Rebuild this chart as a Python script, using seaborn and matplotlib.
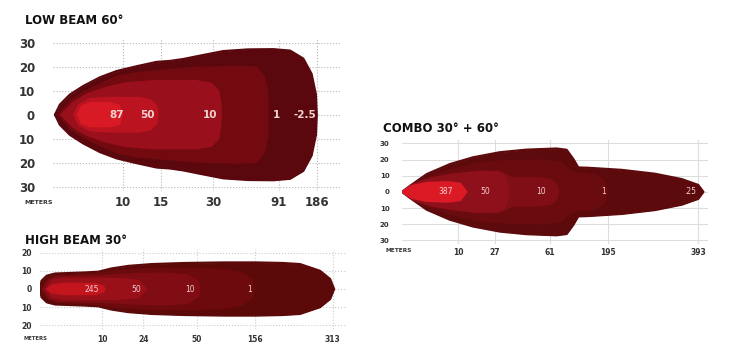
import numpy as np
import pandas as pd
import matplotlib
matplotlib.use("Agg")
import matplotlib.pyplot as plt
import seaborn as sns

sns.set_style("white")
plt.rcParams['font.family'] = ['DejaVu Sans']

W, H = 734, 363

# ---------------- LOW BEAM 60 ----------------
low_tick_pos = [24.4, 37.6, 55.7, 78.7, 92.0]
low_tick_labels = ["10", "15", "30", "91", "186"]
low_zone_labels = ["87", "50", "10", "1", "-2.5"]
low_label_pos = [22.3, 32.8, 54.7, 78.0, 87.8]
low_outer_x = [0.7, 2.4, 5.9, 10.6, 16.4, 22.2, 29.2, 36.1, 40.8, 45.4, 51.2, 59.3, 68.0, 76.8, 82.6, 87.2, 90.1, 91.6, 91.9]
low_outer_hw = [0, 4.2, 8.4, 12.0, 15.6, 18.2, 20.2, 22.0, 22.4, 23.2, 24.6, 26.5, 27.2, 27.3, 26.7, 23.4, 17.0, 8.4, 0]
low_z1_x = [2, 6, 11, 17, 23, 30, 40, 50, 65, 71, 73.5, 74.6, 74.8]
low_z1_hw = [0, 5.5, 9.5, 13, 16, 17.5, 18.5, 19.5, 20, 19.6, 15.6, 9.9, 0]
low_z10_x = [3, 7, 12, 18, 25, 35, 50, 55, 57.5, 58.3, 58.5]
low_z10_hw = [0, 5, 8.5, 11, 13, 14, 14, 13, 10, 5, 0]
low_z50_x = [7.5, 9, 13, 20, 30, 34, 36, 36.5]
low_z50_hw = [0, 4, 6.5, 7, 7, 6, 3.5, 0]
low_z87_x = [8.8, 10, 13, 20, 23, 24]
low_z87_hw = [0, 3.5, 4.8, 4.8, 3.8, 0]
low_colors = ['#5a080d', '#720a10', '#9a0f1c', '#bb1320', '#d81a24']

# ---------------- HIGH BEAM 30 ----------------
high_tick_pos = [20.2, 33.6, 51.1, 70.0, 95.4]
high_tick_labels = ["10", "24", "50", "156", "313"]
high_zone_labels = ["245", "50", "10", "1"]
high_label_pos = [17.0, 31.5, 48.9, 68.2]
high_outer_x = [0, 0.5, 2.2, 4.9, 14.7, 19.0, 23.3, 28.8, 36.4, 47.2, 60.0, 70.5, 79.0, 84.7, 91.2, 94.5, 95.8]
high_outer_hw = [0, 4.5, 7.3, 8.5, 9.1, 9.5, 11.3, 12.7, 13.7, 14.3, 14.6, 14.6, 14.3, 13.7, 10.0, 5.5, 0]
high_z1_x = [0.8, 2.5, 5, 15, 20, 25, 35, 50, 60, 66, 69, 69.5]
high_z1_hw = [0, 5, 7, 7.8, 8.5, 10, 11, 11, 10.5, 8.5, 4.5, 0]
high_z10_x = [1, 3, 6, 20, 30, 40, 48, 51.5, 52]
high_z10_hw = [0, 5, 6.5, 7, 8, 8.5, 7.5, 4, 0]
high_z50_x = [2, 4, 8, 25, 32, 34.5]
high_z50_hw = [0, 4.5, 5.5, 5.5, 4.5, 0]
high_z245_x = [2.5, 4, 8, 18, 20.5, 21]
high_z245_hw = [0, 2, 2.8, 2.8, 1.5, 0]
high_colors = ['#5b0909', '#6c0a0e', '#800d14', '#9a1019', '#c4151f']

# ---------------- COMBO 30 + 60 ----------------
combo_tick_pos = [18.3, 30.4, 48.4, 67.3, 96.7]
combo_tick_labels = ["10", "27", "61", "195", "393"]
combo_zone_labels = ["387", "50", "10", "1", ".25"]
combo_label_pos = [14.4, 27.3, 45.3, 65.8, 94.1]
combo_outer_x = [0, 2.6, 8.1, 15.7, 23.3, 32.0, 40.7, 50.5, 53.8, 56.0, 57.6, 60.9, 71.8, 82.7, 91.4, 96.8, 98.5]
combo_outer_hw = [0, 3.7, 11.0, 17.2, 21.4, 24.5, 26.1, 26.8, 26.0, 20.3, 15.1, 14.9, 13.6, 11.2, 7.9, 4.3, 0]
combo_z1_x = [0.5, 4, 10, 17, 25, 33, 45, 52, 54, 57, 63, 66, 67]
combo_z1_hw = [0, 5, 10, 14, 17.5, 19, 19.5, 18, 14, 11.5, 10.5, 7, 0]
combo_z10_x = [0.5, 4, 10, 18, 25, 32, 36, 45, 49, 50.5, 51]
combo_z10_hw = [0, 5, 8.5, 11, 12.4, 12.4, 8.5, 8.5, 7, 4, 0]
combo_z50_x = [0.5, 4, 10, 18, 25, 31, 33.5, 34.5, 35]
combo_z50_hw = [0, 5, 8.5, 11, 12.4, 12.2, 10, 5, 0]
combo_z387_x = [0, 3, 8, 15, 19, 21]
combo_z387_hw = [0, 3.5, 5.5, 6, 5, 0]
combo_colors = ['#5c0a0c', '#6a0b10', '#7f0e16', '#8e101b', '#dc1a26']

ytick_vals = [30, 20, 10, 0, -10, -20, -30]
high_ytick_vals = [20, 10, 0, -10, -20]

fig = plt.figure(figsize=(W / 100, H / 100), dpi=100)


def px_axes(left, top, right, bottom):
    return fig.add_axes([left / W, 1 - bottom / H, (right - left) / W, (bottom - top) / H])


def draw_zone(ax, xs, hws, color):
    xs = np.asarray(xs, float)
    hws = np.asarray(hws, float)
    ax.fill_between(xs, -hws, hws, color=color, lw=0, zorder=2)
    df = pd.DataFrame({"x": np.concatenate([xs, xs[::-1]]),
                       "y": np.concatenate([hws, -hws[::-1]])})
    sns.lineplot(data=df, x="x", y="y", sort=False, estimator=None, ax=ax,
                 color=color, lw=1.6, zorder=2, solid_joinstyle='round')


def setup(ax, ylim, yvals, tick_pos, tick_labels, ysize, xsize, ypad, xpad, gcolor, gstyle):
    ax.set_xlim(0, 100)
    ax.set_ylim(-ylim, ylim)
    for s in ax.spines.values():
        s.set_visible(False)
    ax.set_yticks(yvals)
    ax.set_yticklabels([str(abs(v)) for v in yvals], fontsize=ysize, color='#333333',
                       fontweight='bold')
    ax.set_xticks(tick_pos)
    ax.set_xticklabels(tick_labels, fontsize=xsize, color='#333333', fontweight='bold')
    ax.tick_params(axis='y', length=0, pad=ypad)
    ax.tick_params(axis='x', length=0, pad=xpad)
    for v in yvals:
        ax.axhline(v, color=gcolor, lw=0.8, ls=gstyle, zorder=1)
    for p in tick_pos:
        ax.axvline(p, color=gcolor, lw=0.8, ls=gstyle, zorder=1)


def finish(ax):
    ax.set_xlabel("")
    ax.set_ylabel("")
    ax.set_xlim(0, 100)


# LOW BEAM
ax1 = px_axes(53, 42.7 - 4.8, 340, 186.7 + 4.8)
setup(ax1, 32, ytick_vals, low_tick_pos, low_tick_labels, 8.5, 8.5, 13, 3, '#b8b8b8', ':')
for xs, hws, c in zip([low_outer_x, low_z1_x, low_z10_x, low_z50_x, low_z87_x],
                      [low_outer_hw, low_z1_hw, low_z10_hw, low_z50_hw, low_z87_hw], low_colors):
    draw_zone(ax1, xs, hws, c)
finish(ax1)
for t, p in zip(low_zone_labels, low_label_pos):
    ax1.text(p, 0, t, ha='center', va='center', fontsize=7.5, color='#f2d4d4',
             fontweight='bold', zorder=5)
fig.text(25 / W, 1 - 21 / H, "LOW BEAM 60°", fontsize=8.5, fontweight='heavy',
         color='#111111', va='center', ha='left')
fig.text(24 / W, 1 - 203 / H, "METERS", fontsize=4.5, fontweight='bold',
         color='#333333', va='center', ha='left')

# HIGH BEAM
ax2 = px_axes(40, 252.7 - 3.7, 347, 325.3 + 3.7)
setup(ax2, 22, high_ytick_vals, high_tick_pos, high_tick_labels, 5.5, 5.5, 6, 4, '#cccccc', ':')
for xs, hws, c in zip([high_outer_x, high_z1_x, high_z10_x, high_z50_x, high_z245_x],
                      [high_outer_hw, high_z1_hw, high_z10_hw, high_z50_hw, high_z245_hw], high_colors):
    draw_zone(ax2, xs, hws, c)
finish(ax2)
for t, p in zip(high_zone_labels, high_label_pos):
    ax2.text(p, 0, t, ha='center', va='center', fontsize=5.5, color='#f0d0d0', zorder=5)
fig.text(25 / W, 1 - 240 / H, "HIGH BEAM 30°", fontsize=8.5, fontweight='heavy',
         color='#111111', va='center', ha='left')
fig.text(23 / W, 1 - 338 / H, "METERS", fontsize=3.8, fontweight='bold',
         color='#333333', va='center', ha='left')

# COMBO
ax3 = px_axes(402, 143.3 - 3.2, 708, 240.5 + 3.2)
setup(ax3, 32, ytick_vals, combo_tick_pos, combo_tick_labels, 5, 5.5, 9, 3, '#dddddd', '-')
for xs, hws, c in zip([combo_outer_x, combo_z1_x, combo_z10_x, combo_z50_x, combo_z387_x],
                      [combo_outer_hw, combo_z1_hw, combo_z10_hw, combo_z50_hw, combo_z387_hw], combo_colors):
    draw_zone(ax3, xs, hws, c)
finish(ax3)
for t, p in zip(combo_zone_labels, combo_label_pos):
    ax3.text(p, 0, t, ha='center', va='center', fontsize=5.5, color='#f0d0d0', zorder=5)
fig.text(383 / W, 1 - 128 / H, "COMBO 30° + 60°", fontsize=8.5, fontweight='heavy',
         color='#111111', va='center', ha='left')
fig.text(385 / W, 1 - 250 / H, "METERS", fontsize=4.2, fontweight='bold',
         color='#333333', va='center', ha='left')

fig.savefig("out.png", dpi=100)
